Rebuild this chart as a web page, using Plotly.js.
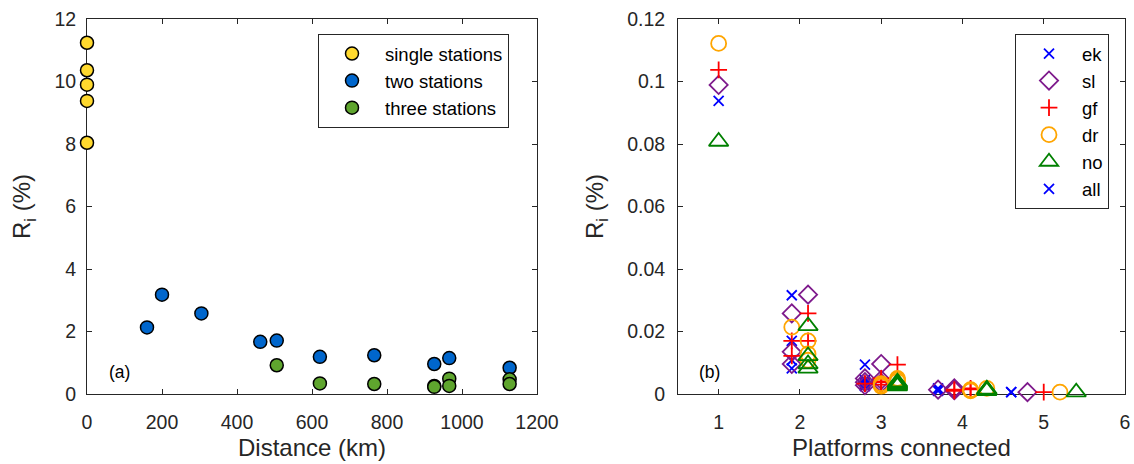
<!DOCTYPE html>
<html>
<head>
<meta charset="utf-8">
<script src="https://cdn.plot.ly/plotly-3.0.1.min.js"></script>
<style>html,body{margin:0;padding:0;background:#fff;}#chart{width:1134px;height:464px;}</style>
</head>
<body>
<div id="chart"></div>
<script>
// ---- Panel (a): R_i vs distance ----
const distSingle = [0, 0, 0, 0, 0];
const riSingle   = [11.24, 10.36, 9.90, 9.38, 8.04];
const distTwo    = [160, 200, 305, 462, 506, 621, 766, 926, 966, 1127];
const riTwo      = [2.13, 3.18, 2.58, 1.67, 1.71, 1.19, 1.24, 0.96, 1.15, 0.84];
const distThree  = [506, 621, 766, 926, 926, 966, 966, 1127, 1127];
const riThree    = [0.92, 0.34, 0.32, 0.26, 0.23, 0.49, 0.26, 0.47, 0.32];

// ---- Panel (b): R_i vs platforms connected ----
const ekX = [1, 1.9, 1.9, 1.9, 1.9, 2.8, 2.8, 2.8, 2.8, 2.8, 2.8, 3.7, 3.7, 3.7, 3.7, 4.6];
const ekY = [0.0938, 0.0316, 0.0170, 0.0108, 0.0082, 0.0094, 0.0045, 0.0035, 0.0040, 0.0030, 0.0025, 0.0018, 0.0015, 0.0012, 0.0010, 0.0006];
const slX = [1, 2.1, 1.9, 1.9, 1.9, 3.0, 3.0, 3.0, 2.8, 2.8, 2.8, 3.9, 3.9, 3.9, 3.7, 4.8];
const slY = [0.0989, 0.0318, 0.0258, 0.0135, 0.0096, 0.0096, 0.0045, 0.0035, 0.0050, 0.0038, 0.0028, 0.0018, 0.0015, 0.0012, 0.0014, 0.0006];
const gfX = [1, 2.1, 2.1, 1.9, 1.9, 3.2, 3.0, 3.0, 3.0, 3.0, 2.8, 4.1, 4.1, 3.9, 3.9, 5.0];
const gfY = [0.1037, 0.0170, 0.0258, 0.0170, 0.0122, 0.0094, 0.0040, 0.0030, 0.0050, 0.0038, 0.0033, 0.0018, 0.0015, 0.0010, 0.0014, 0.0006];
const drX = [1, 2.1, 2.1, 2.1, 1.9, 3.2, 3.2, 3.2, 3.0, 3.0, 3.0, 4.3, 4.1, 4.1, 4.1, 5.2];
const drY = [0.1122, 0.0108, 0.0128, 0.0170, 0.0214, 0.0045, 0.0040, 0.0050, 0.0025, 0.0028, 0.0033, 0.0018, 0.0012, 0.0010, 0.0014, 0.0006];
const noX = [1, 2.1, 2.1, 2.1, 2.1, 3.2, 3.2, 3.2, 3.2, 3.2, 3.2, 4.3, 4.3, 4.3, 4.3, 5.4];
const noY = [0.0808, 0.0082, 0.0096, 0.0122, 0.0218, 0.0035, 0.0030, 0.0025, 0.0038, 0.0028, 0.0033, 0.0015, 0.0012, 0.0010, 0.0014, 0.0006];
const allX = [4.6];
const allY = [0.0006];

const FONT = 'Liberation Sans, Arial, Helvetica, sans-serif';
const INK = '#262626';

function dots(x, y, name, color) {
  return {x, y, name, type: 'scatter', mode: 'markers', xaxis: 'x', yaxis: 'y', cliponaxis: false,
    legend: 'legend',
    marker: {symbol: 'circle', size: 13, color, line: {color: '#000', width: 1.5}}};
}
function open(x, y, name, color, symbol, size) {
  return {x, y, name, type: 'scatter', mode: 'markers', xaxis: 'x2', yaxis: 'y2', cliponaxis: false,
    legend: 'legend2',
    marker: {symbol, size, color, line: {color, width: 1.8}}};
}

const traces = [
  dots(distSingle, riSingle, 'single stations', '#FFD92E'),
  dots(distTwo, riTwo, 'two stations', '#0066CC'),
  dots(distThree, riThree, 'three stations', '#5FA52E'),
  open(ekX, ekY, 'ek', '#0000FF', 'x-thin-open', 10),
  open(slX, slY, 'sl', '#7E1A8C', 'diamond-open', 14),
  open(gfX, gfY, 'gf', '#FF0000', 'cross-thin-open', 12),
  open(drX, drY, 'dr', '#FFA500', 'circle-open', 15),
  open(noX, noY, 'no', '#008000', 'triangle-up-open', 17),
  open(allX, allY, 'all', '#0000FF', 'x-thin-open', 10)
];

const axBase = {
  showline: true, linecolor: INK, linewidth: 1, mirror: 'ticks',
  ticks: 'inside', ticklen: 5, tickcolor: INK, tickwidth: 1,
  showgrid: false, zeroline: false, layer: 'below traces',
  tickfont: {family: FONT, size: 19.5, color: INK}, automargin: false
};
const yDom = [1 - 394 / 464, 1 - 19 / 464];

const layout = {
  width: 1134, height: 464,
  margin: {l: 0, r: 0, t: 0, b: 0},
  paper_bgcolor: '#fff', plot_bgcolor: '#fff',
  font: {family: FONT, color: INK},
  xaxis: Object.assign({}, axBase, {
    domain: [87 / 1134, 537 / 1134], range: [0, 1200], tick0: 0, dtick: 200, anchor: 'y',
    ticklabelstandoff: 11,
    title: {text: 'Distance (km)', font: {family: FONT, size: 24, color: INK}, standoff: 6}
  }),
  yaxis: Object.assign({}, axBase, {
    domain: yDom, range: [0, 12], tick0: 0, dtick: 2, anchor: 'x',
    ticklabelstandoff: 6,
    title: {text: 'R<sub>i</sub> (%)', font: {family: FONT, size: 24, color: INK}, standoff: 16}
  }),
  xaxis2: Object.assign({}, axBase, {
    domain: [678 / 1134, 1125 / 1134], range: [0.5, 6], tick0: 1, dtick: 1, anchor: 'y2',
    ticklabelstandoff: 11,
    title: {text: 'Platforms connected', font: {family: FONT, size: 24, color: INK}, standoff: 6}
  }),
  yaxis2: Object.assign({}, axBase, {
    domain: yDom, range: [0, 0.12], tick0: 0, dtick: 0.02, anchor: 'x2',
    ticklabelstandoff: 8,
    title: {text: 'R<sub>i</sub> (%)', font: {family: FONT, size: 24, color: INK}, standoff: 16}
  }),
  legend: {
    x: 318 / 1134, y: 1 - 34 / 464, xanchor: 'left', yanchor: 'top',
    bordercolor: INK, borderwidth: 1, bgcolor: '#fff', itemwidth: 56,
    font: {family: FONT, size: 18.5, color: '#000'}
  },
  legend2: {
    x: 1015 / 1134, y: 1 - 34 / 464, xanchor: 'left', yanchor: 'top',
    bordercolor: INK, borderwidth: 1, bgcolor: '#fff', itemwidth: 56,
    font: {family: FONT, size: 18.5, color: '#000'}
  },
  showlegend: true,
  annotations: [
    {text: '(a)', xref: 'x domain', yref: 'y domain', x: 0.044, y: 0.059, xanchor: 'left', yanchor: 'middle',
     showarrow: false, font: {family: FONT, size: 17.5, color: '#000'}},
    {text: '(b)', xref: 'x2 domain', yref: 'y2 domain', x: 0.0425, y: 0.059, xanchor: 'left', yanchor: 'middle',
     showarrow: false, font: {family: FONT, size: 17.5, color: '#000'}}
  ]
};

Plotly.newPlot('chart', traces, layout, {displayModeBar: false, staticPlot: true});
</script>
</body>
</html>
